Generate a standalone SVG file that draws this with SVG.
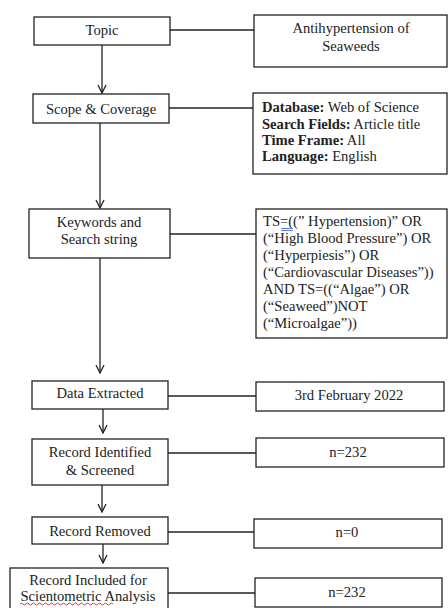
<svg xmlns="http://www.w3.org/2000/svg" width="448" height="608" viewBox="0 0 448 608">
<defs>
<style>
.box{fill:#fff;stroke:#222;stroke-width:1.3}
.ln{fill:none;stroke:#222;stroke-width:1.3}
text{font-size:14.6px;fill:#222}
.c{text-anchor:middle}
</style>
<marker id="ar" viewBox="0 0 10 10" refX="9" refY="5" markerWidth="10" markerHeight="10" markerUnits="userSpaceOnUse" orient="auto">
<path d="M1,1 L9,5 L1,9" fill="none" stroke="#222" stroke-width="1.3"/>
</marker>
</defs>
<rect width="448" height="608" fill="#fff"/>
<g id="connectors">
<line class="ln" x1="170" y1="30" x2="254" y2="30"/>
<line class="ln" x1="102" y1="45" x2="102" y2="93" marker-end="url(#ar)"/>
<line class="ln" x1="169" y1="108" x2="253" y2="108"/>
<line class="ln" x1="100" y1="123" x2="100" y2="208" marker-end="url(#ar)"/>
<line class="ln" x1="170" y1="234" x2="256" y2="234"/>
<line class="ln" x1="100" y1="258" x2="100" y2="373" marker-end="url(#ar)"/>
<line class="ln" x1="168" y1="396" x2="256" y2="396"/>
<line class="ln" x1="103" y1="409" x2="103" y2="433" marker-end="url(#ar)"/>
<line class="ln" x1="168" y1="453" x2="256" y2="453"/>
<line class="ln" x1="102" y1="485" x2="102" y2="512" marker-end="url(#ar)"/>
<line class="ln" x1="168" y1="532" x2="254" y2="532"/>
<line class="ln" x1="103" y1="544" x2="103" y2="563" marker-end="url(#ar)"/>
<line class="ln" x1="168" y1="593" x2="255" y2="593"/>
</g>
<g font-family="'Liberation Serif', 'Times New Roman', serif">
<g id="topic"><rect class="box" x="34" y="17" width="136" height="28"/><text class="c" x="102" y="35">Topic</text></g>
<g id="topic-value"><rect class="box" x="254" y="15" width="193" height="52"/><text class="c" x="351" y="33">Antihypertension of</text><text class="c" x="351" y="51">Seaweeds</text></g>
<g id="scope"><rect class="box" x="33" y="94" width="136" height="29"/><text class="c" x="101" y="114">Scope &amp; Coverage</text></g>
<g id="scope-value"><rect class="box" x="253" y="93" width="194" height="81"/>
<text x="262" y="112"><tspan font-weight="bold">Database:</tspan> Web of Science</text>
<text x="262" y="129"><tspan font-weight="bold">Search Fields:</tspan> Article title</text>
<text x="262" y="145"><tspan font-weight="bold">Time Frame:</tspan> All</text>
<text x="262" y="161"><tspan font-weight="bold">Language:</tspan> English</text></g>
<g id="keywords"><rect class="box" x="29" y="209" width="141" height="49"/><text class="c" x="99" y="227">Keywords and</text><text class="c" x="99" y="244">Search string</text></g>
<g id="keywords-value"><rect class="box" x="256" y="209" width="191" height="129"/>
<text x="263" y="226">TS=((” Hypertension)” OR</text>
<text x="263" y="243">(“High Blood Pressure”) OR</text>
<text x="263" y="260">(“Hyperpiesis”) OR</text>
<text x="263" y="277">(“Cardiovascular Diseases”))</text>
<text x="263" y="294">AND TS=((“Algae”) OR</text>
<text x="263" y="311">(“Seaweed”)NOT</text>
<text x="263" y="328">(“Microalgae”))</text>
<path d="M281,228.5 H293 M281,230.5 H293" stroke="#4a78d8" stroke-width="0.9" fill="none"/></g>
<g id="data-extracted"><rect class="box" x="32" y="381" width="136" height="28"/><text class="c" x="100" y="398">Data Extracted</text></g>
<g id="data-value"><rect class="box" x="256" y="382" width="188" height="29"/><text class="c" x="349" y="400">3rd February 2022</text></g>
<g id="identified"><rect class="box" x="32" y="439" width="136" height="46"/><text class="c" x="100" y="457">Record Identified</text><text class="c" x="100" y="475">&amp; Screened</text></g>
<g id="identified-value"><rect class="box" x="256" y="438" width="188" height="29"/><text class="c" x="348" y="457">n=232</text></g>
<g id="removed"><rect class="box" x="32" y="517" width="136" height="27"/><text class="c" x="100" y="536">Record Removed</text></g>
<g id="removed-value"><rect class="box" x="254" y="519" width="188" height="29"/><text class="c" x="347" y="537">n=0</text></g>
<g id="included"><rect class="box" x="10" y="568" width="158" height="46"/><text class="c" x="88" y="585">Record Included for</text><text class="c" x="88" y="601">Scientometric Analysis</text>
<path d="M20,604 q1.5,-2 3,0 t3,0 t3,0 t3,0 t3,0 t3,0 t3,0 t3,0 t3,0 t3,0 t3,0 t3,0 t3,0 t3,0 t3,0 t3,0 t3,0 t3,0 t3,0 t3,0 t3,0 t3,0 t3,0 t3,0 t3,0 t3,0 t3,0 t3,0 t3,0 t3,0 t3,0" stroke="#d22" stroke-width="0.9" fill="none"/></g>
<g id="included-value"><rect class="box" x="255" y="578" width="187" height="29"/><text class="c" x="347" y="597">n=232</text></g>
</g>
</svg>
